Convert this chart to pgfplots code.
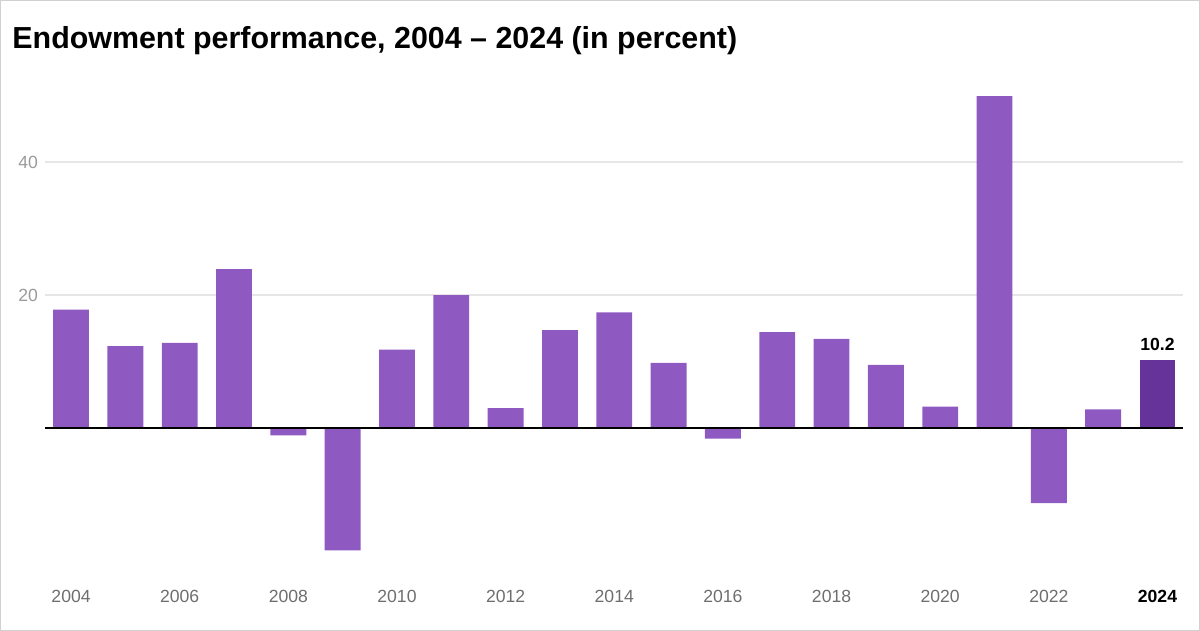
\documentclass[border=0pt]{standalone}
\usepackage{pgfplots}
\pgfplotsset{compat=1.18}
\usepackage{fontspec}
\setmainfont{Liberation Sans}
\definecolor{barc}{HTML}{8E5AC1}
\definecolor{hic}{HTML}{653399}
\definecolor{gridc}{HTML}{E6E6E6}
\definecolor{ylab}{HTML}{9A9A9A}
\definecolor{xlab}{HTML}{6E6E6E}
\pgfplotstableread{
x y
0 17.8
1 12.3
2 12.8
3 23.9
4 -1.1
5 -18.4
6 11.8
7 20.0
8 3.0
9 14.7
10 17.4
11 9.8
12 -1.6
13 14.4
14 13.4
15 9.5
16 3.2
17 49.9
18 -11.3
19 2.8
}\maindata
\pgfplotstableread{
x y
20 10.2
}\hidata
\begin{document}
\begin{tikzpicture}
\useasboundingbox (0,0) rectangle (600pt,315.5pt);
\draw[color=black!18, line width=0.6pt] (0.3pt,0.3pt) rectangle (599.7pt,315.2pt);
\node[anchor=base west, inner sep=0pt, font=\fontsize{15.2pt}{17pt}\selectfont\bfseries] at (6pt,291pt) {Endowment performance, 2004 – 2024 (in percent)};
\begin{axis}[
  at={(22.5pt,35pt)}, anchor=south west,
  scale only axis, width=569pt, height=232.75pt,
  xmin=-0.48, xmax=20.47, ymin=-20, ymax=50,
  axis line style={draw=none},
  major tick style={draw=none},
  ytick={20,40},
  ymajorgrids, grid style={gridc, line width=0.6pt},
  xtick={0,2,...,20},
  xticklabels={2004,2006,2008,2010,2012,2014,2016,2018,2020,2022,\textcolor{black}{\bfseries 2024}},
  xticklabel style={font=\fontsize{8.8pt}{10pt}\selectfont, text=xlab, yshift=-11pt},
  yticklabel style={font=\fontsize{8.8pt}{10pt}\selectfont, text=ylab},
  /pgf/number format/assume math mode=true,
  clip=false,
]
\addplot[ybar, bar width=0.66, fill=barc, draw=none] table[x=x,y=y]{\maindata};
\addplot[ybar, bar width=0.66, fill=hic, draw=none,
  nodes near coords, every node near coord/.append style={font=\fontsize{8.8pt}{10pt}\selectfont\bfseries, text=black, yshift=1pt}] table[x=x,y=y]{\hidata};
\draw[black, line width=0.6pt] (axis cs:-0.48,0) -- (axis cs:20.47,0);
\end{axis}
\end{tikzpicture}
\end{document}
